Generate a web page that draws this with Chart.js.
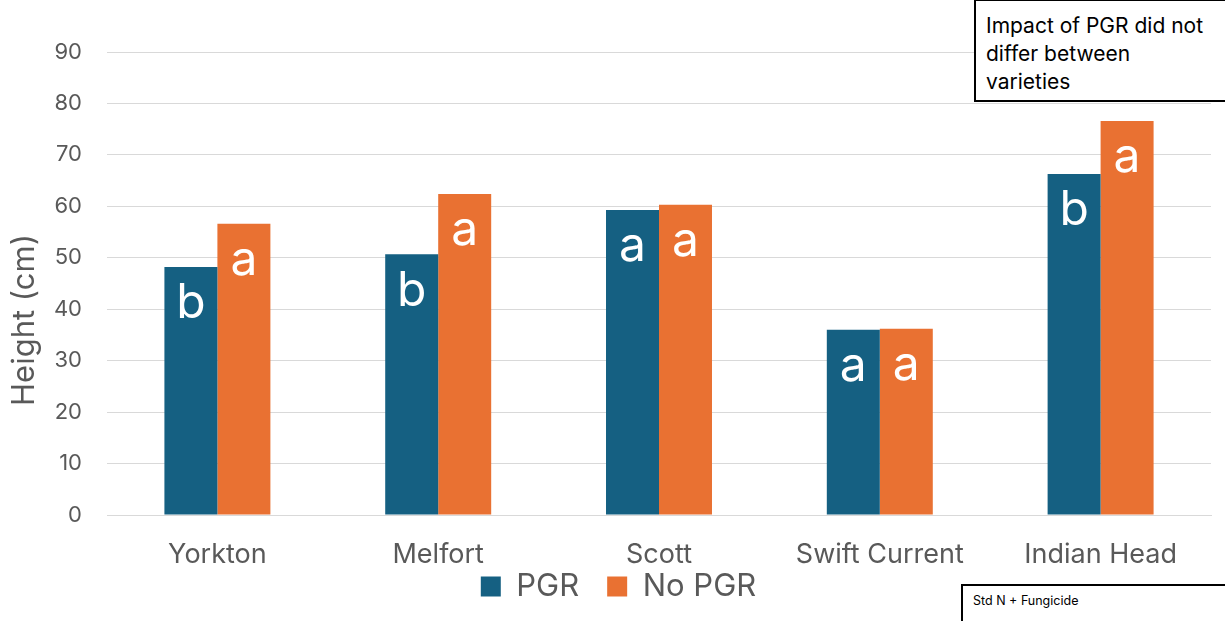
<!DOCTYPE html>
<html>
<head>
<meta charset="utf-8">
<script src="https://cdn.jsdelivr.net/npm/chart.js@4.4.1/dist/chart.umd.min.js"></script>
<style>
  body { margin: 0; background: #fff; overflow: hidden; }
  #wrap { position: relative; width: 1225px; height: 621px; }
  .note { position: absolute; background: #fff; border: 2px solid #000; font-family: Inter, "Noto Sans", sans-serif; color: #000; box-sizing: border-box; }
  #note1 { left: 974px; top: -1px; width: 260px; height: 103px; font-size: 21px; line-height: 28px; padding: 11px 0 0 10px; }
  #note2 { left: 961px; top: 584px; width: 280px; height: 50px; font-size: 12.5px; padding: 7px 0 0 10px; }
</style>
</head>
<body>
<div id="wrap">
  <canvas id="ctx" width="1225" height="621"></canvas>
  <div class="note" id="note1">Impact of PGR did not<br>differ between<br>varieties</div>
  <div class="note" id="note2">Std N + Fungicide</div>
</div>
<script>
const sites = ['Yorkton', 'Melfort', 'Scott', 'Swift Current', 'Indian Head'];
const pgr = [48.2, 50.7, 59.3, 36.0, 66.3];
const noPgr = [56.6, 62.4, 60.3, 36.2, 76.6];
const pgrLetters = ['b', 'b', 'a', 'a', 'b'];
const noPgrLetters = ['a', 'a', 'a', 'a', 'a'];
const yTicks = [0, 10, 20, 30, 40, 50, 60, 70, 80, 90];
const yTitle = 'Height (cm)';

const letters = [pgrLetters, noPgrLetters];
const font = 'Inter, "Noto Sans", sans-serif';

// significance letters inside the top of each bar
const barLetters = {
  id: 'barLetters',
  afterLayout(chart) {
    // let the category labels spill below the axis box
    chart.scales.x._computeLabelArea = () => undefined;
    // legend sits a little right of the canvas centre
    chart.legend.left += 13;
    chart.legend.right += 13;
  },
  afterDatasetsDraw(chart) {
    const c = chart.ctx;
    c.save();
    c.fillStyle = '#ffffff';
    c.font = '48px ' + font;
    c.textAlign = 'center';
    c.textBaseline = 'middle';
    chart.data.datasets.forEach((ds, i) => {
      chart.getDatasetMeta(i).data.forEach((bar, j) => {
        c.fillText(letters[i][j], bar.x, bar.y + 37);
      });
    });
    c.restore();
  },
  afterDraw(chart) {
    const c = chart.ctx;
    c.save();
    c.translate(25, 320);
    c.rotate(-Math.PI / 2);
    c.fillStyle = '#595959';
    c.font = '31px ' + font;
    c.textAlign = 'center';
    c.textBaseline = 'middle';
    c.fillText(yTitle, 0, 0);
    c.restore();
  }
};

const chart = new Chart(document.getElementById('ctx'), {
  type: 'bar',
  data: {
    labels: sites,
    datasets: [
      { label: 'PGR', data: pgr, backgroundColor: '#156082' },
      { label: 'No PGR', data: noPgr, backgroundColor: '#E97132' }
    ]
  },
  options: {
    responsive: false,
    animation: false,
    categoryPercentage: 0.48,
    barPercentage: 1,
    layout: { padding: { top: 52, right: 14, left: 0, bottom: 9 } },
    plugins: {
      tooltip: { enabled: false },
      legend: {
        position: 'bottom',
        labels: {
          color: '#595959',
          font: { family: font, size: 31 },
          boxWidth: 20,
          boxHeight: 20,
          padding: 28
        }
      }
    },
    scales: {
      x: {
        grid: { display: false },
        border: { color: '#d9d9d9' },
        ticks: { color: '#595959', font: { family: font, size: 27, lineHeight: 1 }, padding: 18 },
        afterFit(s) { s.height = 28; }
      },
      y: {
        min: 0,
        max: 90,
        afterBuildTicks(s) { s.ticks = yTicks.map(v => ({ value: v })); },
        grid: { color: '#d9d9d9', drawTicks: false },
        border: { display: false },
        ticks: { color: '#595959', font: { family: font, size: 22 }, padding: 25 },
        afterFit(s) { s.width = 107; }
      }
    }
  },
  plugins: [barLetters]
});
</script>
</body>
</html>
